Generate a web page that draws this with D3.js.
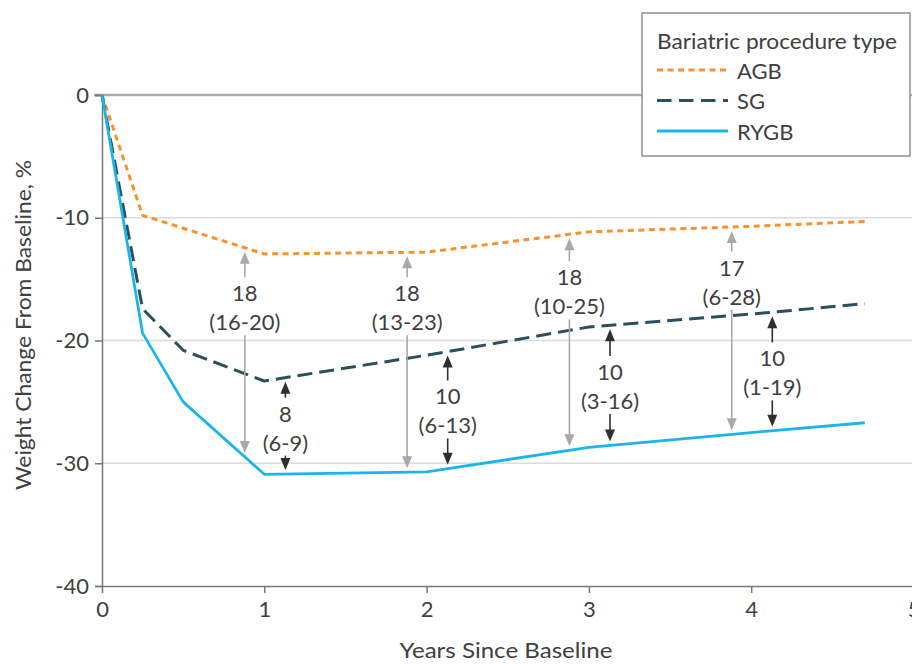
<!DOCTYPE html>
<html lang="en">
<head>
<meta charset="UTF-8">
<title>Weight Change by Bariatric Procedure Type</title>
<script src="https://d3js.org/d3.v7.min.js"></script>
<style>
  body { margin: 0; background: #fff; }
  svg text { font-family: Lato, "Open Sans", sans-serif; fill: #404040; }
</style>
</head>
<body>
<div id="chart"></div>
<script>
  // Series (years since baseline, % weight change)
  const agbYears = [0, 0.25, 1, 2, 3, 4, 4.7];
  const agbChange = [0, -9.8, -12.95, -12.8, -11.15, -10.7, -10.3];
  const sgYears = [0, 0.25, 0.5, 1, 2, 3, 4, 4.7];
  const sgChange = [0, -17.4, -20.8, -23.3, -21.2, -18.9, -17.85, -17.0];
  const rygbYears = [0, 0.25, 0.5, 1, 2, 3, 4, 4.7];
  const rygbChange = [0, -19.4, -25.0, -30.9, -30.7, -28.7, -27.5, -26.7];

  // Differences AGB vs RYGB (gray arrows)
  const agbDiffYears = [0.88, 1.88, 2.88, 3.88];
  const agbDiffValues = ["18", "18", "18", "17"];
  const agbDiffCI = ["(16-20)", "(13-23)", "(10-25)", "(6-28)"];
  // Differences SG vs RYGB (black arrows)
  const sgDiffYears = [1.13, 2.13, 3.13, 4.13];
  const sgDiffValues = ["8", "10", "10", "10"];
  const sgDiffCI = ["(6-9)", "(6-13)", "(3-16)", "(1-19)"];

  const xTicks = [0, 1, 2, 3, 4, 5];
  const yTicks = [0, -10, -20, -30, -40];

  // label block centres (in % units) for the arrow annotations
  const agbLabelAt = [-17.3, -17.3, -16.0, -15.2];
  const sgLabelAt = [-27.1, -25.7, -23.7, -22.6];

  const W = 912, H = 664;
  const svg = d3.select("#chart").append("svg")
      .attr("width", W).attr("height", H);

  const x = d3.scaleLinear().domain([0, 5]).range([102, 913.5]);
  const y = d3.scaleLinear().domain([-40, 0]).range([586, 95]);

  const colors = { AGB: "#f7922e", SG: "#2b4f5c", RYGB: "#1cb5ea" };

  // gridlines
  svg.append("g").selectAll("line")
    .data(yTicks.filter(d => d !== 0 && d !== -40))
    .join("line")
      .attr("x1", x(0)).attr("x2", W)
      .attr("y1", d => y(d)).attr("y2", d => y(d))
      .attr("stroke", "#dcdcdc").attr("stroke-width", 1.5);

  // zero reference line
  svg.append("line")
    .attr("x1", x(0) - 8).attr("x2", W)
    .attr("y1", y(0)).attr("y2", y(0))
    .attr("stroke", "#aaaaaa").attr("stroke-width", 2.5);

  // axes
  const xAxis = svg.append("g")
    .attr("transform", `translate(0,${y(-40)})`)
    .call(d3.axisBottom(x).tickValues(xTicks).tickSize(7).tickPadding(8).tickFormat(d3.format("d")));
  const yAxis = svg.append("g")
    .attr("transform", `translate(${x(0)},0)`)
    .call(d3.axisLeft(y).tickValues(yTicks).tickSize(7).tickPadding(6).tickFormat(d => d === 0 ? "0" : "-" + Math.abs(d)));
  [xAxis, yAxis].forEach(a => {
    a.select(".domain").attr("stroke", "#777").attr("stroke-width", 1.5);
    a.selectAll(".tick line").attr("stroke", "#777").attr("stroke-width", 1.5);
    a.selectAll(".tick text").attr("font-size", 22).attr("fill", "#404040")
      .style("font-family", "Lato, sans-serif");
  });
  xAxis.select(".domain").attr("d", `M${x(0)},0.5H${W}`);

  // axis titles
  svg.append("text")
    .attr("x", 506).attr("y", 658)
    .attr("text-anchor", "middle").attr("font-size", 22)
    .attr("textLength", 213).attr("lengthAdjust", "spacingAndGlyphs")
    .text("Years Since Baseline");
  svg.append("text")
    .attr("transform", "translate(31,325) rotate(-90)")
    .attr("text-anchor", "middle").attr("font-size", 22)
    .attr("textLength", 330).attr("lengthAdjust", "spacingAndGlyphs")
    .text("Weight Change From Baseline, %");

  // lines
  const series = [
    { name: "AGB", xs: agbYears, ys: agbChange, dash: "6,4.5", w: 3 },
    { name: "SG", xs: sgYears, ys: sgChange, dash: "15,7", w: 3 },
    { name: "RYGB", xs: rygbYears, ys: rygbChange, dash: null, w: 2.8 }
  ];
  const line = d3.line().x(d => x(d[0])).y(d => y(d[1]));
  series.forEach(s => {
    svg.append("path")
      .datum(d3.zip(s.xs, s.ys))
      .attr("d", line)
      .attr("fill", "none")
      .attr("stroke", colors[s.name])
      .attr("stroke-width", s.w)
      .attr("stroke-dasharray", s.dash)
      .attr("stroke-linejoin", "round");
  });

  // linear interpolation along a series
  function valueAt(s, t) {
    for (let i = 1; i < s.xs.length; i++) {
      if (t <= s.xs[i]) {
        const f = (t - s.xs[i - 1]) / (s.xs[i] - s.xs[i - 1]);
        return s.ys[i - 1] + f * (s.ys[i] - s.ys[i - 1]);
      }
    }
    return s.ys[s.ys.length - 1];
  }

  // double-headed arrow with a two-line label in the middle
  function drawArrow(t, top, bottom, label, ci, at, color) {
    const px = x(t);
    const y1 = y(valueAt(top, t)) + 4;
    const y2 = y(valueAt(bottom, t)) - 4;
    const c = y(at);
    const g = svg.append("g");
    const headH = 12, headW = 5;
    g.append("line").attr("x1", px).attr("x2", px)
      .attr("y1", y1 + headH - 1).attr("y2", c - 30)
      .attr("stroke", color).attr("stroke-width", 1.6);
    g.append("line").attr("x1", px).attr("x2", px)
      .attr("y1", c + 28).attr("y2", y2 - headH + 1)
      .attr("stroke", color).attr("stroke-width", 1.6);
    g.append("path")
      .attr("d", `M${px},${y1}L${px - headW},${y1 + headH}L${px + headW},${y1 + headH}Z`)
      .attr("fill", color);
    g.append("path")
      .attr("d", `M${px},${y2}L${px - headW},${y2 - headH}L${px + headW},${y2 - headH}Z`)
      .attr("fill", color);
    g.append("text").attr("x", px).attr("y", c - 14.5)
      .attr("text-anchor", "middle").attr("dominant-baseline", "central")
      .attr("font-size", 22).text(label);
    g.append("text").attr("x", px).attr("y", c + 14.5)
      .attr("text-anchor", "middle").attr("dominant-baseline", "central")
      .attr("font-size", 22).text(ci);
  }

  agbDiffYears.forEach((t, i) =>
    drawArrow(t, series[0], series[2], agbDiffValues[i], agbDiffCI[i], agbLabelAt[i], "#a9a9a9"));
  sgDiffYears.forEach((t, i) =>
    drawArrow(t, series[1], series[2], sgDiffValues[i], sgDiffCI[i], sgLabelAt[i], "#2f2f2f"));

  // legend
  const lg = svg.append("g");
  lg.append("rect")
    .attr("x", 642).attr("y", 13).attr("width", 268).attr("height", 143)
    .attr("fill", "#fff").attr("stroke", "#8f8f8f").attr("stroke-width", 1.5);
  lg.append("text").attr("x", 657).attr("y", 40)
    .attr("dominant-baseline", "central").attr("font-size", 22)
    .attr("textLength", 240).attr("lengthAdjust", "spacingAndGlyphs")
    .text("Bariatric procedure type");
  series.forEach((s, i) => {
    const ly = 70 + i * 30.5;
    lg.append("line")
      .attr("x1", 657).attr("x2", 728).attr("y1", ly).attr("y2", ly)
      .attr("stroke", colors[s.name]).attr("stroke-width", s.w)
      .attr("stroke-dasharray", s.name === "SG" ? "14.5,7.5" : s.dash);
    lg.append("text").attr("x", 737).attr("y", ly)
      .attr("dominant-baseline", "central").attr("font-size", 22)
      .text(s.name);
  });
</script>
</body>
</html>
